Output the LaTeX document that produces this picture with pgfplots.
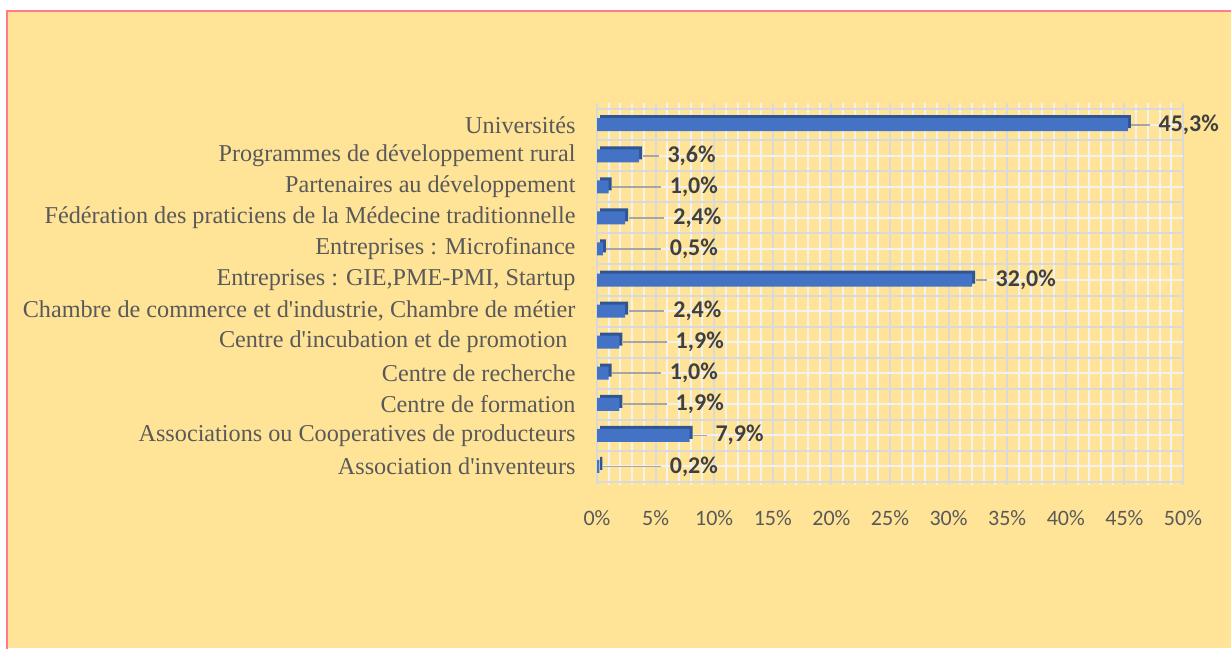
\documentclass[border=0pt]{standalone}
\usepackage{pgfplots}
\pgfplotsset{compat=1.18}
\usepackage{pgfplotstable}
\usepackage{fontspec}
\setmainfont{Carlito}
\newfontfamily\catfont{Liberation Serif}
\definecolor{bg}{HTML}{FFE498}
\definecolor{frame}{HTML}{FF7A8C}
\definecolor{barface}{HTML}{4472C4}
\definecolor{bardark}{HTML}{2F5597}
\definecolor{gmajor}{HTML}{D9D9D9}
\definecolor{gminor}{HTML}{F2F2F2}
\definecolor{leader}{HTML}{A6A6A6}
\definecolor{labtext}{HTML}{404040}
\definecolor{axtext}{HTML}{595959}

% y  value  label-x  leader-start  leader-length  label
\pgfplotstableread{
y  v     lx    ls    le    lab
0  0.2   6.2   0.5   4.95  {0,2\%}
1  7.9   10.1  8.2   1.15  {7,9\%}
2  1.9   6.7   2.2   3.75  {1,9\%}
3  1.0   6.2   1.3   4.15  {1,0\%}
4  1.9   6.7   2.2   3.75  {1,9\%}
5  2.4   6.5   2.7   3.05  {2,4\%}
6  32.0  34.0  32.3  0.95  {32,0\%}
7  0.5   6.2   0.8   4.65  {0,5\%}
8  2.4   6.5   2.7   3.05  {2,4\%}
9  1.0   6.2   1.3   4.15  {1,0\%}
10 3.6   6.0   3.9   1.35  {3,6\%}
11 45.3  47.9  45.6  1.55  {45,3\%}
}\datatable

\begin{document}
\begin{tikzpicture}[x=1pt,y=1pt]
\useasboundingbox (0,0) rectangle (1231,648);
\fill[white] (0,0) rectangle (1231,648);
\fill[bg] (7,0) rectangle (1231,637);
\draw[frame, line width=2.5pt] (7,-5) -- (7,637) -- (1240,637);
\begin{axis}[
  at={(597pt,163pt)}, anchor=south west,
  scale only axis, width=586pt, height=382pt,
  xmin=0, xmax=50, ymin=-0.6, ymax=11.7,
  axis line style={draw=none},
  major tick length=0pt, minor tick length=0pt,
  xtick={0,5,...,50},
  minor x tick num=4,
  xticklabel={\pgfmathprintnumber{\tick}\%},
  xticklabel style={font=\fontsize{22}{26}\selectfont, text=axtext, yshift=-22pt},
  /pgf/number format/assume math mode=true,
  ytick={0,...,11},
  minor ytick={-0.5,0.5,...,11.5},
  yticklabels={
    {Association d'inventeurs},
    {Associations ou Cooperatives de producteurs},
    {Centre de formation},
    {Centre de recherche},
    {Centre d'incubation et de promotion\hspace*{8pt}},
    {Chambre de commerce et d'industrie, Chambre de métier},
    {Entreprises : GIE,PME-PMI, Startup},
    {Entreprises : Microfinance},
    {Fédération des praticiens de la Médecine traditionnelle},
    {Partenaires au développement},
    {Programmes de développement rural},
    {Universités}},
  yticklabel style={font=\catfont\fontsize{24.2}{28}\selectfont, text=axtext, xshift=-18pt},
  xmajorgrids, xminorgrids, ymajorgrids, yminorgrids,
  major grid style={gmajor, line width=2pt},
  minor grid style={gminor, line width=2pt},
  minor y grid style={gmajor, line width=2pt},
  major y grid style={gminor, line width=2pt},
  clip=false,
]
\addplot[xbar, bar width=13pt, bar shift=0pt, fill=bardark, draw=none, xshift=3pt, yshift=3pt]
  table[x=v, y=y] {\datatable};
\addplot[xbar, bar width=13pt, bar shift=0pt, fill=barface, draw=none]
  table[x=v, y=y] {\datatable};
\addplot[draw=none, mark=none, forget plot,
  error bars/.cd, x dir=plus, x explicit, error mark=none,
  error bar style={draw=leader, line width=1.6pt, solid}]
  table[x=ls, y=y, x error=le] {\datatable};
\addplot[draw=none, mark=none, nodes near coords, point meta=explicit symbolic,
  nodes near coords style={anchor=west, inner sep=0pt, text=labtext,
    font=\bfseries\fontsize{24}{28}\selectfont}]
  table[x=lx, y=y, meta=lab] {\datatable};
\end{axis}
\end{tikzpicture}
\end{document}
